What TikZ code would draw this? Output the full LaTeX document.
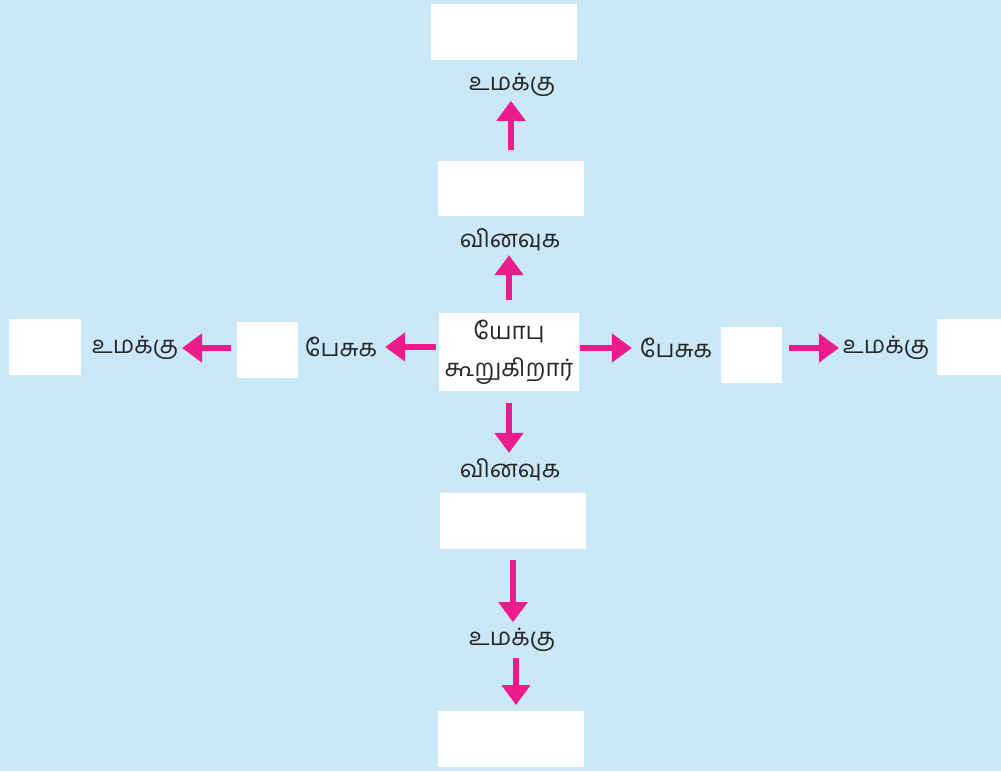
\documentclass[tikz,border=0pt]{standalone}
\usepackage{fontspec}
\newfontfamily\tamilfont[Script=Tamil]{Hind Madurai}
\usetikzlibrary{arrows.meta,positioning,calc}

\definecolor{skyback}{HTML}{CBE8F8}
\definecolor{arrowpink}{HTML}{EC1C8C}
\definecolor{inkgray}{HTML}{262626}

\begin{document}
\begin{tikzpicture}[x=1pt,y=-1pt]
  \tikzstyle{blank}=[fill=white, inner sep=0pt, outer sep=0pt]
  \tikzstyle{word}=[text=inkgray, inner sep=0pt, outer sep=0pt, font=\tamilfont\fontsize{24}{37}\selectfont]
  \tikzstyle{flow}=[draw=arrowpink, line width=6pt, -{Triangle[length=20pt,width=28pt]}]

  \fill[skyback] (0,0) rectangle (1001,771);

  % white boxes
  \node [blank,minimum width=146,minimum height=56] (topbox) at (504,32) {};
  \node [blank,minimum width=146,minimum height=55] (askbox) at (511,188.5) {};
  \node [blank,minimum width=140,minimum height=78,word,align=center] (job) at (509,352) {யோபு\\கூறுகிறார்};
  \node [blank,minimum width=146,minimum height=56] (downbox) at (513,521) {};
  \node [blank,minimum width=146,minimum height=56] (lastbox) at (511,739) {};
  \node [blank,minimum width=72,minimum height=56] (leftfar) at (45,347) {};
  \node [blank,minimum width=61,minimum height=56] (leftbox) at (267.5,350) {};
  \node [blank,minimum width=61,minimum height=56] (rightbox) at (751.5,355) {};
  \node [blank,minimum width=64,minimum height=56] (rightfar) at (969,347) {};

  % labels
  \node [word] (topyou) at (512,85) {உமக்கு};
  \node [word] (askup) at (510,240) {வினவுக};
  \node [word] (askdown) at (510,470) {வினவுக};
  \node [word] (youdown) at (512,640) {உமக்கு};
  \node [word] (speakleft) at (341,347) {பேசுக};
  \node [word] (youleft) at (135,348) {உமக்கு};
  \node [word] (speakright) at (676,348) {பேசுக};
  \node [word] (youright) at (886,348) {உமக்கு};

  % arrows
  \draw[flow,shorten <=11pt,shorten >=4pt] (askbox.north) -- (askbox.north |- topyou.south);
  \draw[flow,shorten <=13pt,shorten >=4pt] (job.north) -- (job.north |- askup.south);
  \draw[flow,shorten <=12pt,shorten >=6pt] (job.south) -- (job.south |- askdown.north);
  \draw[flow,shorten <=11pt,shorten >=6pt] (downbox.south) -- (downbox.south |- youdown.north);
  \draw[flow,shorten <=6pt,shorten >=6pt] ([xshift=4pt]youdown.south) -- ([xshift=4pt]youdown.south |- lastbox.north);
  \draw[flow,shorten <=3pt,shorten >=8pt] (job.west |- speakleft.east) -- (speakleft.east);
  \draw[flow,shorten <=6pt,shorten >=4pt] (leftbox.west |- youleft.east) -- (youleft.east);
  \draw[flow,shorten <=1pt,shorten >=8pt] (job.east |- speakright.west) -- (speakright.west);
  \draw[flow,shorten <=7pt,shorten >=4pt] (rightbox.east |- youright.west) -- (youright.west);
\end{tikzpicture}
\end{document}
